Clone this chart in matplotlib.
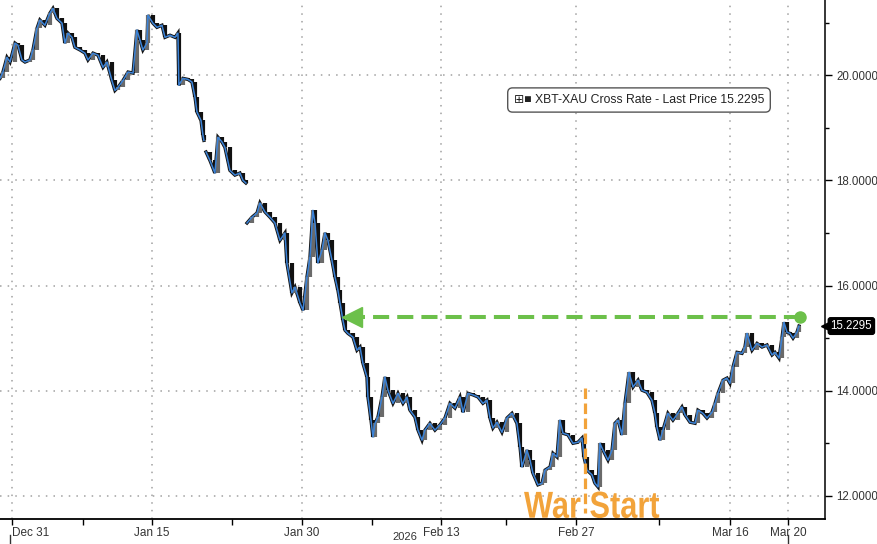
import numpy as np
import matplotlib.pyplot as plt
from matplotlib.lines import Line2D
from matplotlib.textpath import TextPath
from matplotlib.patches import PathPatch
from matplotlib.font_manager import FontProperties
from matplotlib.transforms import Affine2D

plt.rcParams.update({
    "font.family": ["Liberation Sans", "DejaVu Sans"],
    "figure.facecolor": "white",
    "axes.facecolor": "white",
})

# XBT-XAU cross rate, x in trading sessions since Dec 31 (weekends removed)
session = [
    -0.86, -0.65, -0.36, -0.14, 0.22, 0.43, 0.72, 0.94, 1.29, 1.51, 1.80, 2.01,
    2.37, 2.73, 2.95, 3.24, 3.60, 3.81, 4.03, 4.32, 4.53, 4.89, 5.25, 5.47,
    5.83, 6.19, 6.55, 6.83, 7.19, 7.41, 7.63, 7.99, 8.35, 8.71, 8.99, 9.21,
    9.42, 9.71, 9.78, 10.14, 10.43, 10.79, 11.01, 11.37, 11.73, 11.94, 12.01,
    12.30, 12.66, 12.95, 13.17, 13.31, 13.60, 13.74, 13.81, 13.88, 13.96,
    14.24, 14.60, 14.82, 15.11, 15.32, 15.68, 16.04, 16.40, 16.62, 16.83,
    16.87, 16.91, 17.27, 17.63, 17.84, 18.20, 18.56, 18.92, 19.28, 19.64,
    19.78, 20.14, 20.36, 20.72, 20.94, 21.22, 21.44, 21.65, 21.80, 22.01,
    22.30, 22.52, 22.73, 23.02, 23.24, 23.45, 23.60, 23.81, 23.96, 24.17,
    24.53, 24.82, 25.04, 25.25, 25.54, 25.61, 25.83, 25.97, 26.12, 26.33,
    26.62, 26.83, 27.05, 27.41, 27.77, 28.13, 28.42, 28.63, 28.99, 29.21,
    29.50, 29.71, 30.07, 30.43, 30.79, 31.15, 31.51, 31.87, 32.23, 32.45,
    32.81, 33.17, 33.53, 33.88, 34.17, 34.39, 34.60, 34.89, 35.25, 35.61,
    35.97, 36.33, 36.55, 36.69, 37.05, 37.27, 37.48, 37.84, 38.13, 38.35,
    38.71, 38.92, 39.21, 39.42, 39.64, 40.00, 40.36, 40.72, 41.01, 41.15,
    41.37, 41.73, 41.94, 42.16, 42.30, 42.52, 42.88, 43.17, 43.38, 43.60,
    43.88, 44.10, 44.39, 44.68, 45.04, 45.32, 45.68, 46.04, 46.26, 46.40,
    46.62, 46.83, 47.19, 47.55, 47.91, 48.20, 48.42, 48.78, 49.14, 49.35,
    49.71, 50.00, 50.36, 50.58, 50.79, 51.15, 51.44, 51.65, 51.87, 52.16,
    52.52, 52.73, 52.88, 53.24, 53.60, 53.96, 54.32, 54.68, 54.89, 55.18,
    55.40, 55.54, 55.76, 55.97, 56.19, 56.47, 56.62,
]
price = [
    19.94, 20.06, 20.34, 20.25, 20.61, 20.57, 20.29, 20.25, 20.29, 20.48, 20.89, 21.05,
    20.95, 21.18, 21.27, 21.08, 20.99, 20.61, 20.80, 20.72, 20.53, 20.48, 20.42, 20.29,
    20.42, 20.38, 20.15, 20.25, 19.90, 19.71, 19.77, 19.90, 20.06, 20.04, 20.86, 20.67,
    20.48, 20.61, 21.14, 20.99, 20.91, 20.95, 20.72, 20.76, 20.72, 20.80, 19.81,
    19.94, 19.92, 19.87, 19.58, 19.30, 19.14, 18.86, 18.76, np.nan, 18.54,
    18.38, 18.14, 18.82, 18.73, 18.63, 18.19, 18.10, 18.14, 18.00, 17.95,
    np.nan, 17.19, 17.30, 17.38, 17.57, 17.40, 17.30, 17.19, 16.86, 17.00,
    16.43, 15.86, 15.97, 15.67, 15.53, 16.16, 16.54, 17.43, 17.19, 16.43,
    16.67, 17.00, 16.86, 16.48, 16.16, 15.91, 15.67, 15.34, 15.15, 15.09,
    15.02, 14.77, 14.83, 14.52, 14.26, 13.88, 13.44, 13.12, 13.38, 13.50,
    13.88, 14.26, 14.01, 13.76, 13.95, 13.76, 13.88, 13.63, 13.50, 13.25,
    13.06, 13.25, 13.38, 13.25, 13.35, 13.48, 13.76, 13.67, 13.88, 13.59,
    13.95, 13.92, 13.88, 13.76, 13.82, 13.48, 13.29, 13.40, 13.21, 13.48,
    13.57, 13.38, 12.93, 12.55, 12.87, 12.68, 12.43, 12.21, 12.24, 12.49,
    12.55, 12.81, 12.74, 13.44, 13.19, 13.16, 13.00, 13.02, 13.10, 12.74,
    12.49, 12.40, 12.24, 12.17, 13.00, 12.87, 12.68, 12.87, 13.38, 13.44,
    13.16, 13.76, 14.35, 14.07, 14.20, 14.01, 13.97, 13.82, 13.57, 13.31,
    13.06, 13.25, 13.57, 13.44, 13.57, 13.69, 13.54, 13.40, 13.38, 13.63,
    13.57, 13.48, 13.59, 13.76, 13.95, 14.20, 14.24, 14.14, 14.45, 14.73,
    14.71, 14.83, 15.09, 14.77, 14.90, 14.83, 14.87, 14.68, 14.73, 14.62,
    15.02, 15.30, 15.11, 15.09, 15.00, 15.11, 15.2295,
]

date_ticks = [0.0, 10.07, 20.86, 30.86, 40.58, 51.65, 55.83]
date_labels = ["Dec 31", "Jan 15", "Jan 30", "Feb 13", "Feb 27", "Mar 16", "Mar 20"]
week_ticks = [5.11, 15.83, 25.90, 35.54, 46.55]
y_ticks = [12, 14, 16, 18, 20]
last_price = 15.2295
arrow_level = 15.40
arrow_from, arrow_to = 56.69, 23.96
war_start = 41.22

fig = plt.figure(figsize=(8.77, 5.44), dpi=100)
ax = fig.add_axes([0, 25 / 544, 825 / 877, 519 / 544])
ax.set_xlim(-0.86, 58.49)
ax.set_ylim(11.56, 21.43)

# grid
grid_kw = dict(color="#a0a0a0", lw=1.1, linestyle=(0, (1, 4)), zorder=0)
for t in date_ticks:
    ax.axvline(t, **grid_kw)
for t in y_ticks:
    ax.axhline(t, **grid_kw)

# price series drawn candle style
s = np.array(session)
p = np.array(price)
prev, cur = p[:-1], p[1:]
ok = ~np.isnan(prev) & ~np.isnan(cur)
cols = np.where(cur[ok] > prev[ok], "#6a6a6a", "#111111")
ax.plot(s, p, color="#151515", lw=2.4, zorder=2, solid_joinstyle="miter")
ax.vlines(s[1:][ok], np.minimum(prev, cur)[ok], np.maximum(prev, cur)[ok],
          colors=cols, lw=3.0, zorder=3)
ax.plot(s, p, color="#3b82d6", lw=1.1, zorder=4)

# green dashed arrow
ln, = ax.plot([arrow_from, arrow_to + 0.6], [arrow_level, arrow_level],
              color="#6cc04a", lw=2.9, zorder=5)
ln.set_dashes((4, 2))
ax.plot(arrow_from, arrow_level, "o", color="#6cc04a", ms=8, zorder=6)
ax.plot(arrow_to + 0.5, arrow_level, marker="<", color="#6cc04a", ms=15,
        mec="#6cc04a", zorder=6)

# war start marker
wl, = ax.plot([war_start, war_start], [14.05, 11.68], color="#f2a33a",
              lw=2.3, zorder=5, clip_on=False)
wl.set_dashes((3.3, 1.4))

# condensed bold "War Start" label (narrow face drawn as a squeezed text path)
tp = TextPath((0, 0), "War Start", size=27,
              prop=FontProperties(family="Liberation Sans", weight="bold"))
ext = tp.get_extents()
sx = 0.82
cx, cy = ax.transData.transform((41.7, 11.585))
war_tf = (Affine2D().translate(-(ext.x0 + ext.x1) / 2, 0).scale(sx * 100 / 72, 100 / 72)
          .translate(cx, cy))
fig.add_artist(PathPatch(tp, transform=war_tf, fc="#f2a33a", ec="none", zorder=6))

# axes styling
for side in ["top", "left"]:
    ax.spines[side].set_visible(False)
ax.spines["right"].set_linewidth(1.1)
ax.spines["bottom"].set_linewidth(1.3)
ax.yaxis.tick_right()
ax.set_yticks(y_ticks)
ax.set_yticklabels([f"{v:.4f}" for v in y_ticks])
ax.set_yticks([13, 15, 17, 19, 21], minor=True)
ax.tick_params(axis="y", which="major", length=5, width=1, pad=3,
               labelsize=8.3, labelcolor="#333333")
ax.tick_params(axis="y", which="minor", length=3, width=1)
ax.set_xticks(date_ticks)
ax.set_xticklabels(date_labels)
ax.set_xticks(week_ticks, minor=True)
ax.tick_params(axis="x", which="both", length=4, width=1, pad=2,
               labelsize=8.5, labelcolor="#333333")
ax.get_xticklabels()[0].set_horizontalalignment("left")

# last price tag
ax.annotate(f"{last_price:.4f}", xy=(1, last_price),
            xycoords=("axes fraction", "data"), xytext=(4, 0),
            textcoords="offset points", ha="left", va="center",
            color="white", fontsize=8.3, annotation_clip=False,
            bbox=dict(boxstyle="round,pad=0.2", fc="black", ec="black"))
ax.plot(1.0, last_price, marker="<", color="black", ms=6,
        transform=ax.get_yaxis_transform(), clip_on=False)

# legend box
fig.text(639 / 877, 1 - 100 / 544,
         "\u229e\u25a0 XBT-XAU Cross Rate - Last Price 15.2295",
         family=["Liberation Sans", "DejaVu Sans"], fontsize=8.8, color="#222222",
         ha="center", va="center",
         bbox=dict(boxstyle="round,pad=0.5,rounding_size=0.4", fc="white",
                   ec="#555555", lw=1.0))

# year label and separators
fig.text(405 / 877, 2 / 544, "2026", fontsize=8, color="#333333",
         ha="center", va="bottom")
for xp in [10, 788]:
    fig.add_artist(Line2D([xp / 877, xp / 877], [0, 9 / 544], color="#333333", lw=1))

fig.savefig("out.png", dpi=100)
